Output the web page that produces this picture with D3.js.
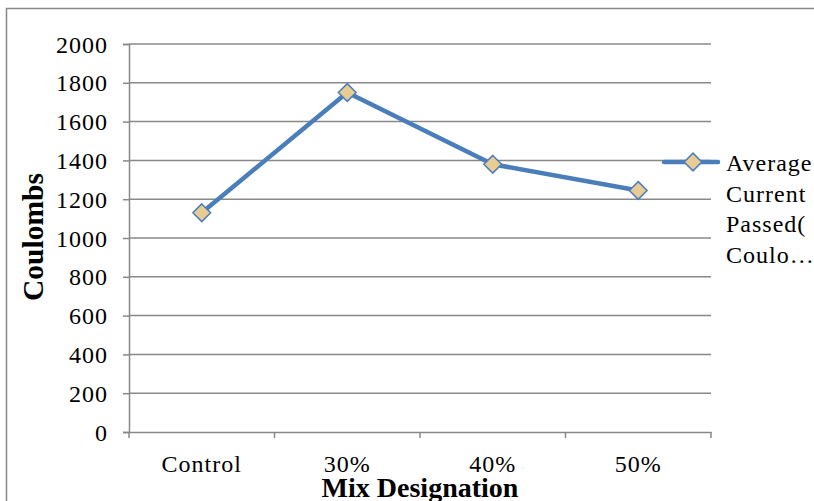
<!DOCTYPE html>
<html><head><meta charset="utf-8">
<script src="https://cdn.jsdelivr.net/npm/d3@7"></script>
<style>html,body{margin:0;padding:0;background:#fff;}svg{display:block;}</style>
</head><body>
<svg id="c" width="814" height="501"></svg>
<script>
const categories = ["Control", "30%", "40%", "50%"];
const values = [1130, 1750, 1380, 1245];
const yTicks = [0, 200, 400, 600, 800, 1000, 1200, 1400, 1600, 1800, 2000];
const legendLines = ["Average", "Current", "Passed(", "Coulo…"];
const xTitle = "Mix Designation";
const yTitle = "Coulombs";

const svg = d3.select("#c");
const font = "Liberation Serif, Times New Roman, serif";
const grid = "#888888";
const lineColor = "#4a7ebb";

// outer border
svg.append("path").attr("d", "M6.5,501 V8.5 H814").attr("fill", "none").attr("stroke", grid).attr("stroke-width", 1.5);

const L = 129, R = 711, T = 44, B = 432;
const x = d3.scaleBand().domain(categories).range([L, R]);
const y = d3.scaleLinear().domain([0, 2000]).range([B, T]);

// gridlines
svg.append("g").selectAll("line").data(yTicks.filter(d => d > 0)).join("line")
  .attr("x1", L).attr("x2", R).attr("y1", d => y(d)).attr("y2", d => y(d))
  .attr("stroke", grid).attr("stroke-width", 1.5);

// y axis
const ya = svg.append("g").attr("transform", `translate(${L},0)`)
  .call(d3.axisLeft(y).tickValues(yTicks).tickSize(6).tickPadding(15).tickFormat(d3.format("d")));
ya.attr("font-family", font).attr("font-size", 24);
ya.select(".domain").attr("stroke", grid).attr("stroke-width", 1.5);
ya.selectAll(".tick line").attr("stroke", grid).attr("stroke-width", 1.5);
ya.selectAll("text").style("font-family", font).attr("font-size", 24).attr("letter-spacing", 1)
  .attr("fill", "#000").attr("dy", "0.34em");

// x axis
const xa = svg.append("g").attr("transform", `translate(0,${B})`)
  .call(d3.axisBottom(x).tickSize(0).tickPadding(0));
xa.attr("font-family", font).attr("font-size", 24);
xa.select(".domain").attr("stroke", grid).attr("stroke-width", 1.5);
xa.selectAll("text").style("font-family", font).attr("font-size", 24).attr("letter-spacing", 1)
  .attr("fill", "#000").attr("y", 40).attr("dy", 0);
const bounds = categories.map(c => x(c)).concat([R]);
xa.append("g").selectAll("line").data(bounds).join("line")
  .attr("x1", d => d).attr("x2", d => d).attr("y1", 0).attr("y2", 6)
  .attr("stroke", grid).attr("stroke-width", 1.5);

// series line
const cx = c => x(c) + x.bandwidth() / 2;
const pts = categories.map((c, i) => [cx(c), y(values[i])]);
svg.append("path").attr("d", d3.line()(pts)).attr("fill", "none")
  .attr("stroke", lineColor).attr("stroke-width", 4.5).attr("stroke-linejoin", "round");

const diamond = d3.symbol().type(d3.symbolDiamond2).size(200);
svg.append("g").selectAll("path").data(pts).join("path")
  .attr("transform", d => `translate(${d[0]},${d[1]})`)
  .attr("d", diamond).attr("fill", "#e8cc94").attr("stroke", lineColor).attr("stroke-width", 1.5);

// legend
svg.append("line").attr("x1", 664).attr("x2", 718).attr("y1", 162).attr("y2", 162)
  .attr("stroke", lineColor).attr("stroke-width", 4.5).attr("stroke-linecap", "round");
svg.append("path").attr("transform", "translate(693,162)").attr("d", diamond)
  .attr("fill", "#e8cc94").attr("stroke", lineColor).attr("stroke-width", 1.5);
svg.append("g").selectAll("text").data(legendLines).join("text")
  .attr("x", 726).attr("y", (d, i) => 171 + i * 30.5)
  .style("font-family", font).attr("font-size", 24).attr("letter-spacing", 1).text(d => d);

// axis titles
svg.append("text").attr("x", (L + R) / 2).attr("y", 497).attr("text-anchor", "middle")
  .style("font-family", font).attr("font-weight", "bold").attr("font-size", 28).text(xTitle);
svg.append("text").attr("transform", `translate(43,${(T + B) / 2 - 1}) rotate(-90)`).attr("text-anchor", "middle")
  .style("font-family", font).attr("font-weight", "bold").attr("font-size", 29.5).text(yTitle);
</script>
</body></html>
